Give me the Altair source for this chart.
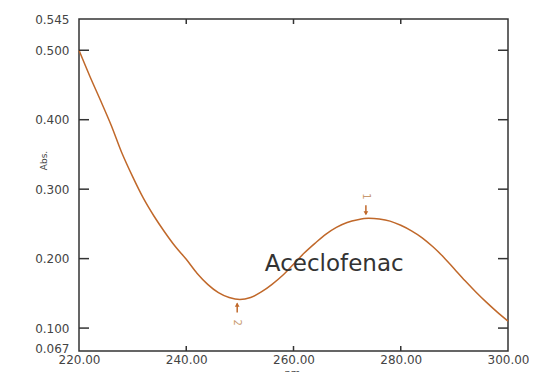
import altair as alt
import pandas as pd

# Spectrum (wavelength nm, absorbance)
wavelength = [220, 222, 224, 226, 228, 230, 232, 234, 236, 238, 240, 242, 244, 246, 248, 250,
              252, 254, 256, 258, 260, 262, 264, 266, 268, 270, 272, 274, 276, 278, 280, 282,
              284, 286, 288, 290, 292, 294, 296, 298, 300]
absorbance = [0.500, 0.463, 0.428, 0.392, 0.352, 0.318, 0.287, 0.261, 0.238, 0.217, 0.199, 0.179,
              0.163, 0.151, 0.144, 0.141, 0.144, 0.152, 0.163, 0.176, 0.192, 0.208, 0.222, 0.235,
              0.245, 0.252, 0.256, 0.258, 0.257, 0.254, 0.248, 0.240, 0.230, 0.217, 0.202, 0.185,
              0.168, 0.152, 0.137, 0.123, 0.110]

# Peak / valley markers
peak_wl = [273.5]
peak_abs = [0.258]
peak_label = ["1"]
valley_wl = [249.5]
valley_abs = [0.141]
valley_label = ["2"]

# Axis ticks
y_label_values = [0.067, 0.1, 0.2, 0.3, 0.4, 0.5, 0.545]
y_tick_values = [0.1, 0.2, 0.3, 0.4, 0.5]
x_label_values = [220, 240, 260, 280, 300]
x_tick_values = [240, 260, 280]

annot_text = ["Aceclofenac"]
annot_wl = [267.6]
annot_abs = [0.1815]

W, H = 429, 332
LINE = "#c0682a"
AXC = "#333333"

df = pd.DataFrame({"wl": wavelength, "abs": absorbance})
xs = alt.Scale(domain=[220, 300], nice=False, zero=False)
ys = alt.Scale(domain=[0.067, 0.545], nice=False, zero=False)

xaxis = alt.Axis(values=x_label_values, format=".2f", title="nm.", ticks=False, domain=False,
                 grid=False, labelPadding=3, labelFont="DejaVu Sans", labelFontSize=12,
                 labelColor="#444", titleFont="DejaVu Sans", titleFontSize=10,
                 titleFontWeight="normal", titleColor="#444", titleBaseline="top", titleY=17,
                 labelOverlap=False, labelFlush=False)
yaxis = alt.Axis(values=y_label_values, format=".3f", title="Abs.", ticks=False, domain=False,
                 grid=False, labelPadding=10, labelFont="DejaVu Sans", labelFontSize=12,
                 labelColor="#444", titleFont="DejaVu Sans", titleFontSize=9,
                 titleFontWeight="normal", titleColor="#444", titleX=-31, titleY=141,
                 labelOverlap=False, labelFlush=False,
                 labelOffset={"condition": {"test": "datum.value < 0.07", "value": -3}, "value": 0})

line = alt.Chart(df).mark_line(color=LINE, strokeWidth=1.5, interpolate="monotone").encode(
    x=alt.X("wl:Q", scale=xs, axis=xaxis),
    y=alt.Y("abs:Q", scale=ys, axis=yaxis),
)

ytdf = pd.DataFrame({"abs": y_tick_values})
left_ticks = alt.Chart(ytdf).mark_rule(color=AXC, strokeWidth=1.5).encode(
    y=alt.Y("abs:Q", scale=ys), x=alt.value(0), x2=alt.value(10))
right_ticks = alt.Chart(ytdf).mark_rule(color=AXC, strokeWidth=1.5).encode(
    y=alt.Y("abs:Q", scale=ys), x=alt.value(W - 10), x2=alt.value(W))

xtdf = pd.DataFrame({"wl": x_tick_values})
bottom_ticks = alt.Chart(xtdf).mark_rule(color=AXC, strokeWidth=1.5).encode(
    x=alt.X("wl:Q", scale=xs), y=alt.value(H - 5), y2=alt.value(H))
top_ticks = alt.Chart(xtdf).mark_rule(color=AXC, strokeWidth=1.5).encode(
    x=alt.X("wl:Q", scale=xs), y=alt.value(0), y2=alt.value(5))

pk = pd.DataFrame({"wl": peak_wl, "abs": peak_abs, "lab": peak_label})
vl = pd.DataFrame({"wl": valley_wl, "abs": valley_abs, "lab": valley_label})

pk_rule = alt.Chart(pk).mark_rule(color=LINE, strokeWidth=1.5, yOffset=-13, y2Offset=-4).encode(
    x=alt.X("wl:Q", scale=xs), y=alt.Y("abs:Q", scale=ys), y2="abs:Q")
pk_head = alt.Chart(pk).mark_point(shape="triangle-down", filled=True, color=LINE, size=22,
                                   yOffset=-5, opacity=1).encode(
    x=alt.X("wl:Q", scale=xs), y=alt.Y("abs:Q", scale=ys))
pk_text = alt.Chart(pk).mark_text(angle=90, color="#c89a70", fontSize=10, font="DejaVu Sans",
                                  yOffset=-22).encode(
    x=alt.X("wl:Q", scale=xs), y=alt.Y("abs:Q", scale=ys), text="lab:N")

vl_rule = alt.Chart(vl).mark_rule(color=LINE, strokeWidth=1.5, yOffset=4, y2Offset=13).encode(
    x=alt.X("wl:Q", scale=xs), y=alt.Y("abs:Q", scale=ys), y2="abs:Q")
vl_head = alt.Chart(vl).mark_point(shape="triangle-up", filled=True, color=LINE, size=22,
                                   yOffset=5, opacity=1).encode(
    x=alt.X("wl:Q", scale=xs), y=alt.Y("abs:Q", scale=ys))
vl_text = alt.Chart(vl).mark_text(angle=90, color="#c89a70", fontSize=10, font="DejaVu Sans",
                                  yOffset=23).encode(
    x=alt.X("wl:Q", scale=xs), y=alt.Y("abs:Q", scale=ys), text="lab:N")

an = pd.DataFrame({"wl": annot_wl, "abs": annot_abs, "t": annot_text})
annot = alt.Chart(an).mark_text(font="DejaVu Sans", fontSize=23, color="#333333",
                                align="center", baseline="alphabetic").encode(
    x=alt.X("wl:Q", scale=xs), y=alt.Y("abs:Q", scale=ys), text="t:N")

chart = alt.layer(
    line, left_ticks, right_ticks, bottom_ticks, top_ticks,
    pk_rule, pk_head, pk_text, vl_rule, vl_head, vl_text, annot
).properties(
    width=W, height=H,
    background="white",
    autosize=alt.AutoSizeParams(type="none"),
    padding={"left": 71, "top": 11, "right": 21, "bottom": 21},
).configure_view(stroke=AXC, strokeWidth=1.5)

chart.save("out.html", embed_options={"renderer": "svg", "actions": False})
